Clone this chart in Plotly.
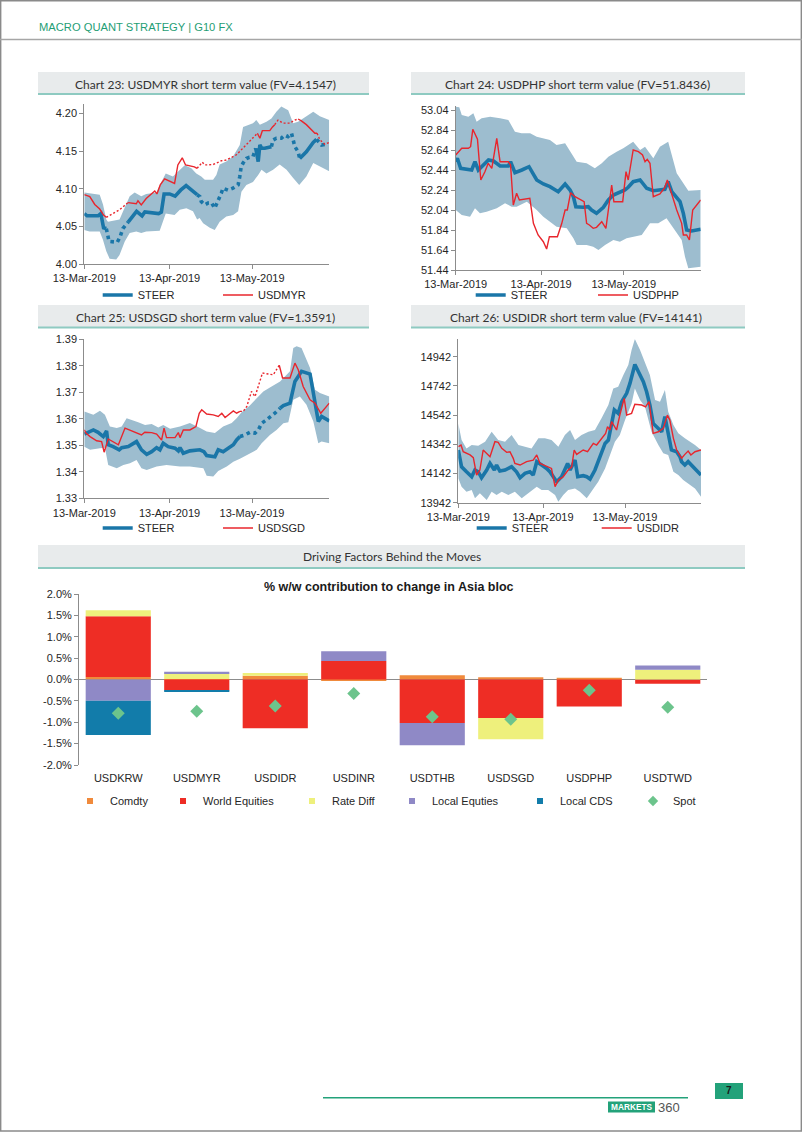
import pandas as pd
import plotly.graph_objects as go

W, H = 802, 1133
BASE = pd.Timestamp("2019-03-13")

# ---------------- Chart 23: USDMYR ----------------
myr_steer_day = [0,1,5,6,7,8,9,12,13,14,16,19,21,22,27,28,29,31,33,35,37,38,40,41,42,42.5,43.8,45,46.2,47.4,
                 48.6,49.8,50.4,52.2,54,55.9,56.5,57,57.7,58.9,60,61.3,62.3,63.2,63.8,64.4,65.6,68,68.6,69.8,
                 71.6,72.8,74,75.3,76.5,77.7,78.3,80.7,83.2,84.4,85,86.2,88]
myr_steer = [4.067,4.064,4.064,4.067,4.048,4.047,4.030,4.029,4.036,4.047,4.056,4.070,4.064,4.069,4.067,4.069,4.093,4.093,4.090,4.098,
             4.104,4.101,4.096,4.092,4.0895,4.083,4.0785,4.081,4.0815,4.074,4.083,4.094,4.1006,4.098,4.1006,4.105,4.116,4.129,4.134,4.140,
             4.1417,4.1425,4.1536,4.136,4.158,4.154,4.1536,4.1558,4.1646,4.167,4.167,4.171,4.169,4.1735,4.156,4.149,4.140,4.149,4.1615,4.1655,
             4.1624,4.158,4.159]
myr_steer_dotted = [(8, 16), (41, 62.3), (68, 78.3), (84.4, 89)]
myr_spot_day = [0,2,3.8,5.6,7,8,8.6,10.4,12.8,14.7,15.9,17.7,18.9,19.5,20.7,22.5,24.4,25.6,26.4,27.6,
                29.2,31,32.8,34,34.7,35.6,36.8,38.3,40,41,42,42.9,43.8,46.8,49.8,51.6,55.3,57.7,60,61.9,
                62.9,63.8,64.7,67.4,68.4,69.2,70.4,72.2,74.7,76.5,77.7,78.9,80.7,82.5,83.8,84.6,85.6,87.4,89]
myr_spot = [4.092,4.0895,4.079,4.073,4.065,4.062,4.063,4.067,4.072,4.0785,4.0815,4.081,4.080,4.084,4.0785,4.087,4.093,4.097,4.093,4.105,
            4.113,4.110,4.107,4.1315,4.135,4.141,4.1315,4.1306,4.129,4.127,4.1306,4.135,4.1315,4.132,4.137,4.138,4.145,4.154,4.1615,4.169,
            4.1735,4.167,4.177,4.177,4.182,4.185,4.191,4.187,4.187,4.191,4.1925,4.190,4.185,4.179,4.1735,4.1735,4.165,4.159,4.1615]
myr_spot_dotted = [(8, 15.9), (41, 62.9), (69.2, 77.7), (84.6, 89)]
myr_up_day = [0,2.9,5.6,6.8,8,8.6,12.8,14.1,16.5,18.3,20.7,22.5,26.2,28,29.6,32.2,34.7,36.5,38.9,40.7,
              42.5,43.8,46.8,48,49.2,51.6,54.1,56.5,57.7,61.3,62.5,63.8,66.2,68,69.8,71.6,74.1,75.9,77.7,80.7,83.2,85.6,89]
myr_up = [4.095,4.093,4.092,4.079,4.059,4.056,4.059,4.070,4.090,4.095,4.090,4.093,4.095,4.109,4.120,4.116,4.125,4.131,4.127,4.120,
          4.116,4.112,4.112,4.118,4.132,4.136,4.143,4.158,4.182,4.187,4.191,4.185,4.189,4.193,4.202,4.209,4.204,4.187,4.189,4.196,4.202,4.196,4.191]
myr_lo_day = [0,1.9,5.6,6.8,8,9.2,11.6,12.8,14.7,16.5,18.9,20.7,22.5,27.4,29.6,32.8,34.7,37.1,39.5,41,
              41.9,43.2,45.6,47.4,49.2,51.6,54.1,55.9,57.1,58.9,61.3,63.2,64.4,66.2,68.6,71,73.5,75.9,78.1,80.7,83.2,85.6,89]
myr_lo = [4.045,4.043,4.043,4.032,4.017,4.007,4.006,4.012,4.030,4.041,4.043,4.041,4.043,4.044,4.067,4.065,4.072,4.074,4.070,4.059,
          4.061,4.054,4.048,4.045,4.056,4.063,4.065,4.070,4.096,4.105,4.109,4.118,4.125,4.120,4.125,4.132,4.125,4.114,4.105,4.116,4.134,4.129,4.123]
myr_ticks = [4.00, 4.05, 4.10, 4.15, 4.20]

# ---------------- Chart 24: USDPHP ----------------
php_steer_day = [0,0.6,1.8,5.8,7,8.2,11.9,13.7,16.1,19.1,19.9,21.5,24,26.6,29.4,31.8,34.2,37.2,39.7,41.5,
                 42.7,43.6,46.3,48.1,49.3,51.1,53.6,55.4,57.2,59.6,61.4,62.6,64.4,66.9,69.3,71.7,74.1,75.9,77.1,78.4,
                 81.4,82.6,83.8,85.6,88.9]
php_steer = [52.523,52.557,52.457,52.44,52.523,52.44,52.54,52.53,52.48,52.48,52.523,52.413,52.44,52.473,52.34,52.30,52.273,52.223,52.30,52.24,
             52.173,52.073,52.067,52.073,52.04,52.007,52.067,52.14,52.19,52.223,52.24,52.267,52.323,52.34,52.257,52.233,52.24,52.247,52.323,52.223,
             52.123,52.007,51.84,51.83,51.847]
php_spot_day = [0,2.2,4.6,5.4,6.2,7.9,9.1,10.6,11.8,13.1,14.9,16.1,19.1,19.9,20.9,22.1,23.1,26.9,28.2,29.9,
                31.8,33,34,36.9,38.5,39.7,40.5,41.7,43.3,45.7,46.6,47.5,48.5,49.9,51.1,53,54.5,56.6,57.4,60.6,
                61.8,62.6,64.4,66.3,67.8,68.7,69.5,70.5,71.7,74.1,75.9,76.8,78.4,80.2,82,82.6,83.8,84.8,86,87.4,88.9]
php_spot = [52.59,52.657,52.657,52.673,52.847,52.747,52.34,52.423,52.507,52.457,52.757,52.523,52.523,52.49,52.09,52.207,52.14,52.157,51.907,51.79,
            51.723,51.65,51.773,51.773,51.907,52.04,52.04,52.213,52.173,52.14,52.123,51.907,51.89,51.857,51.867,51.923,51.857,52.29,52.123,52.123,
            52.423,52.34,52.64,52.623,52.59,52.523,52.547,52.507,52.173,52.2,52.267,52.34,52.19,52.04,51.907,51.79,51.79,51.74,52.04,52.09,52.14]
php_up_day = [0,1.3,2.2,4.6,6.4,7.6,9.4,12.5,16.1,19.1,21.5,23.9,27,29.4,34.2,36.6,39.7,41.5,43.9,47.5,
              50.5,53,55.4,58.4,60.8,64.4,66.9,68.7,71.7,74.1,77.1,80.2,82.6,84.4,88.9]
php_up = [53.073,53.067,52.99,52.973,53.007,52.923,52.957,52.973,52.957,52.94,52.823,52.807,52.807,52.773,52.74,52.69,52.707,52.623,52.523,52.507,
          52.457,52.507,52.573,52.623,52.657,52.723,52.64,52.673,52.557,52.673,52.723,52.407,52.307,52.233,52.24]
php_lo_day = [0,2.2,5.2,7,8.8,11.2,14.9,17.9,20.3,22.1,25.8,29.4,31.8,34.2,36.6,40.3,42.7,43.9,47.5,49.9,
              51.8,54.2,57.2,59.6,62,65.1,67.5,70.5,73.5,76.5,79.6,82,83.2,84.4,88.9]
php_lo = [52.04,51.99,51.973,52.057,52.007,52.023,52.057,52.107,52.073,52.073,52.123,52.04,51.973,51.923,51.873,51.857,51.757,51.69,51.69,51.673,
          51.64,51.69,51.74,51.723,51.757,51.773,51.79,51.907,51.907,51.957,51.84,51.74,51.573,51.457,51.473]
php_ticks = [51.44, 51.64, 51.84, 52.04, 52.24, 52.44, 52.64, 52.84, 53.04]

# ---------------- Chart 25: USDSGD ----------------
sgd_steer_day = [0,1.5,3.3,5,6.9,8.1,8.7,10.5,12.7,13.6,16,19,20.8,22.7,24.5,26.3,27.5,28.7,30.5,33,
                 34.2,34.8,36,38.4,42,43.5,44.5,47.5,48.7,50.5,52.4,54.2,55.4,56.6,58.4,60.2,62.1,63.3,64.5,65.7,
                 67.5,69.3,71.2,72.4,74.8,76.6,77.8,79,82.1,83.9,85.1,86.3,89.1]
sgd_steer = [1.3542,1.3549,1.3558,1.3549,1.3533,1.3554,1.3502,1.3495,1.3483,1.3491,1.3495,1.3514,1.3483,1.3466,1.3476,1.3491,1.3483,1.3508,1.3495,1.3489,
             1.3479,1.3491,1.347,1.3479,1.3483,1.3476,1.3461,1.3457,1.3483,1.3476,1.3489,1.3502,1.352,1.3533,1.3539,1.3549,1.3546,1.3558,1.3583,1.3592,
             1.3605,1.3621,1.364,1.365,1.3659,1.3741,1.376,1.3779,1.3769,1.3672,1.359,1.3609,1.3592]
sgd_steer_dotted = [(56.4, 71.5)]
sgd_spot_day = [0,0.6,2.1,4.5,6.3,7.2,8.7,10.5,12.4,14.8,17.2,19,20.8,22,24.5,26.3,28.1,29,29.9,33,
                34.2,34.8,36,38.4,40.6,41.8,42.7,44.5,46.9,48.7,50,51.2,54.2,55.4,56.6,57.8,59.1,60.8,62.1,63.3,
                64.8,66.9,68.7,70.9,72.1,74.8,76.6,77.8,79.6,82.1,83.9,86,89.1]
sgd_spot = [1.3558,1.3546,1.3533,1.3517,1.3514,1.3474,1.3524,1.3512,1.3502,1.3565,1.3554,1.3546,1.3539,1.3549,1.3548,1.3542,1.352,1.3565,1.3529,1.3529,
            1.3548,1.3529,1.3558,1.3558,1.3571,1.3621,1.3634,1.3618,1.3615,1.3609,1.3621,1.3605,1.363,1.3621,1.3628,1.3628,1.3647,1.3703,1.3684,1.3722,
            1.3773,1.3769,1.3766,1.3802,1.3754,1.3754,1.381,1.3785,1.3722,1.3672,1.3659,1.3621,1.3659]
sgd_spot_dotted = [(56.6, 70.9)]
sgd_up_day = [0,1.5,3.3,5.7,7.5,9.3,11.8,13.6,15.4,19.6,22.1,24.5,26.9,28.7,31.2,34.8,38.4,42.1,44.5,47.5,
              50.5,53.6,55.4,57.2,60.2,62.7,65.1,67.5,71.2,74.8,76,77.2,79,82.1,83.9,85.7,89.1]
sgd_up = [1.3628,1.3621,1.3615,1.363,1.3615,1.3571,1.3565,1.3571,1.3602,1.3587,1.3577,1.358,1.3567,1.3577,1.3562,1.3571,1.3584,1.3565,1.3552,1.3546,
          1.3571,1.3584,1.3602,1.3625,1.365,1.3678,1.3703,1.3718,1.3741,1.3779,1.3867,1.3874,1.3867,1.3792,1.371,1.3697,1.3684]
sgd_lo_day = [0,2.1,5.7,7.5,8.7,11.8,14.2,16.6,19,20.8,22.7,26.3,29.9,34.8,38.4,43.3,44.5,46.9,48.7,51.8,
              54.2,56.6,59,62.7,64.5,67.5,69.9,72.4,74.2,76,78.4,80.8,83.3,85.1,86.3,89.1]
sgd_lo = [1.3495,1.3483,1.3489,1.3491,1.3426,1.3413,1.3426,1.3432,1.3445,1.3413,1.3407,1.342,1.3426,1.342,1.342,1.3413,1.3385,1.3382,1.3403,1.342,
          1.3438,1.3449,1.3461,1.3483,1.3508,1.3539,1.3558,1.3583,1.3587,1.3672,1.3684,1.3653,1.359,1.3508,1.3514,1.3508]
sgd_ticks = [1.33, 1.34, 1.35, 1.36, 1.37, 1.38, 1.39]

# ---------------- Chart 26: USDIDR ----------------
idr_steer_day = [0,1.2,3,4.9,6.1,7.3,8.5,10.4,11.6,13.2,14,15.2,17.1,19.5,21.3,22.6,24.4,26.2,27.4,28.7,
                 30.5,32.3,33.5,34.8,36,37.8,40,40.9,42.7,43.7,45.7,47,48.2,50,51.8,53.7,54.9,56.1,57.1,58.5,
                 59.8,61.6,62.8,64.6,65.9,67.7,68.9,70.1,71.3,73.2,74.4,75.6,76.8,78,79.9,81.1,81.7,82.9,84.1,86,88.8]
idr_steer = [14303,14188,14154,14120,14166,14154,14113,14166,14211,14166,14200,14159,14166,14188,14154,14113,14143,14154,14131,14223,
             14200,14177,14154,14120,14086,14120,14211,14166,14234,14120,14127,14120,14104,14166,14257,14348,14371,14474,14577,14554,
             14634,14691,14759,14889,14839,14771,14702,14611,14485,14451,14428,14531,14428,14303,14291,14257,14223,14200,14223,14188,14131]
idr_spot_day = [0,1,1.8,4.3,5.5,6.7,7.9,9.1,11.6,13.4,14.6,15.9,17.7,18.9,20.1,20.7,22.6,25,27.4,28.7,
                29.9,31.7,34.1,35.4,36.6,38.4,40.2,41.5,42.4,43.3,45.7,47.3,49.4,50.6,52.4,53.9,54.6,55.5,56.1,57.9,
                59.1,60.7,61.6,63.4,64.6,67.1,68.5,69.8,71.3,73.2,75,76.5,77.4,78.7,79.9,81.7,82.9,84.1,85.1,86.6,88.8]
idr_spot = [14326,14337,14291,14269,14250,14131,14166,14303,14257,14360,14355,14314,14287,14291,14246,14211,14200,14223,14234,14269,
            14211,14195,14177,14052,14097,14120,14166,14188,14303,14273,14303,14291,14348,14337,14383,14417,14462,14440,14497,14440,
            14542,14657,14542,14554,14616,14611,14599,14634,14417,14428,14451,14542,14508,14383,14303,14246,14273,14296,14269,14291,14303]
idr_up_day = [0,1.2,3,4.9,7.3,9.8,12.2,14.6,17.1,19.5,22,24.4,26.8,29.3,31.7,34.1,36.6,39,40.9,42.7,
              45.1,47.6,50,52.4,54.9,56.7,58.5,60.4,62.2,63.4,64.6,66.5,68.3,70.1,72,73.8,75.6,76.8,78.7,80.5,82.9,84.8,86.6,88.8]
idr_up = [14485,14371,14314,14337,14332,14360,14428,14371,14360,14406,14337,14326,14314,14383,14383,14371,14326,14406,14440,14371,
          14406,14428,14440,14520,14611,14725,14737,14816,14885,14988,15063,14988,14896,14816,14645,14634,14714,14565,14474,14417,14383,14360,14337,14303]
idr_lo_day = [0,1.2,3,4.9,6.1,7.9,10.4,12.2,14,15.9,18.3,20.7,23.2,26.2,28.7,30.5,32.9,35.4,36.6,38.4,
              40.2,42.7,44.5,47,48.8,51.2,53.7,55.5,57.3,59.1,61,63.4,64.6,66.5,68.3,70.7,73.2,75,76.8,78.7,80.5,82.3,84.1,86.6,88.8]
idr_lo = [14109,14052,14017,14029,13972,14006,13960,14017,13994,14017,13994,14017,13972,14017,14052,14029,14029,13994,13949,13994,
          14029,14040,14017,13972,14017,14086,14177,14269,14360,14406,14508,14622,14725,14645,14599,14428,14337,14280,14269,14154,14131,14097,14074,14040,13983]
idr_ticks = [13942, 14142, 14342, 14542, 14742, 14942]

date_ticks = ["2019-03-13", "2019-04-13", "2019-05-13"]

# ---------------- Bar chart: drivers ----------------
categories = ["USDKRW", "USDMYR", "USDIDR", "USDINR", "USDTHB", "USDSGD", "USDPHP", "USDTWD"]
comdty = [0.06, 0.01, 0.09, -0.02, 0.10, 0.05, 0.04, 0.0]
world_equities = [1.42, -0.26, -1.14, 0.43, -1.02, -0.90, -0.63, -0.10]
rate_diff = [0.14, 0.13, 0.06, 0.0, 0.0, -0.50, 0.0, 0.23]
local_equities = [-0.50, 0.04, 0.0, 0.23, -0.52, 0.0, 0.0, 0.10]
local_cds = [-0.80, -0.02, 0.0, 0.0, 0.0, 0.0, 0.0, 0.0]
spot_move = [-0.79, -0.74, -0.62, -0.33, -0.87, -0.93, -0.25, -0.65]
bar_ticks = [-2.0, -1.5, -1.0, -0.5, 0.0, 0.5, 1.0, 1.5, 2.0]
bar_tick_text = ["-2.0%", "-1.5%", "-1.0%", "-0.5%", "0.0%", "0.5%", "1.0%", "1.5%", "2.0%"]

# ---------------- styling ----------------
ARIAL = "Liberation Sans, Arial, sans-serif"
TITLEF = "Lato, Open Sans, sans-serif"
BLUE = "#1a76a8"
RED = "#e8262d"
BAND = "#9dbdcf"
AXC = "#8c8c8c"
TXT = "#262626"
GREEN = "#1f9e75"
TEAL = "#8ecac1"
BOXBG = "#e8ebec"


def pxx(x):
    return x / W


def pyy(y):
    return 1 - y / H


def to_dates(days):
    return [None if d is None else BASE + pd.Timedelta(days=d) for d in days]


def split(days, vals, spans):
    out = {"solid": ([], []), "dot": ([], [])}
    last = {"solid": None, "dot": None}
    for i in range(len(days) - 1):
        mid = (days[i] + days[i + 1]) / 2
        k = "dot" if any(a <= mid <= b for a, b in spans) else "solid"
        xs, ys = out[k]
        if last[k] != i:
            if xs:
                xs.append(None)
                ys.append(None)
            xs.append(days[i])
            ys.append(vals[i])
        xs.append(days[i + 1])
        ys.append(vals[i + 1])
        last[k] = i + 1
    return out


def legend_name(n):
    return "legend" if n == 1 else f"legend{n}"


fig = go.Figure()
layout_extra = {}

charts = [
    dict(name="USDMYR", steer=(myr_steer_day, myr_steer, myr_steer_dotted), spot=(myr_spot_day, myr_spot, myr_spot_dotted),
         up=(myr_up_day, myr_up), lo=(myr_lo_day, myr_lo), ticks=myr_ticks, fmt=".2f",
         xdom=(84.3, 329.2), ydom=(104.3, 264), yrange=(4.00, 4.212), leg_y=295, leg_x=(102.7, 223)),
    dict(name="USDPHP", steer=(php_steer_day, php_steer, []), spot=(php_spot_day, php_spot, []),
         up=(php_up_day, php_up), lo=(php_lo_day, php_lo), ticks=php_ticks, fmt=".2f",
         xdom=(455.7, 700.7), ydom=(106, 270), yrange=(51.44, 53.08), leg_y=295, leg_x=(475.7, 598)),
    dict(name="USDSGD", steer=(sgd_steer_day, sgd_steer, sgd_steer_dotted), spot=(sgd_spot_day, sgd_spot, sgd_spot_dotted),
         up=(sgd_up_day, sgd_up), lo=(sgd_lo_day, sgd_lo), ticks=sgd_ticks, fmt=".2f",
         xdom=(84.3, 329.3), ydom=(339.3, 498.3), yrange=(1.33, 1.39), leg_y=528, leg_x=(102.7, 223)),
    dict(name="USDIDR", steer=(idr_steer_day, idr_steer, []), spot=(idr_spot_day, idr_spot, []),
         up=(idr_up_day, idr_up), lo=(idr_lo_day, idr_lo), ticks=idr_ticks, fmt="d",
         xdom=(458.3, 701), ydom=(339.2, 502.7), yrange=(13942, 15062), leg_y=528, leg_x=(476.7, 601.7)),
]

LEG_OFF = 5  # pixels from legend x to start of line sample
leg_n = 0
for i, c in enumerate(charts):
    ax = "" if i == 0 else str(i + 1)
    xa, ya = "x" + ax, "y" + ax
    bx = list(c["up"][0]) + list(c["lo"][0])[::-1]
    by = list(c["up"][1]) + list(c["lo"][1])[::-1]
    fig.add_trace(go.Scatter(x=to_dates(bx), y=by, fill="toself", fillcolor=BAND, line=dict(width=0),
                             mode="lines", hoverinfo="skip", showlegend=False, xaxis=xa, yaxis=ya))
    for key, color, width, dotdash, name in [("steer", BLUE, 3.6, "dot", "STEER"),
                                              ("spot", RED, 1.4, "2px,2px", c["name"])]:
        d, v, spans = c[key]
        parts = split(d, v, spans)
        leg_n += 1
        lname = legend_name(leg_n)
        if parts["dot"][0]:
            fig.add_trace(go.Scatter(x=to_dates(parts["dot"][0]), y=parts["dot"][1], mode="lines",
                                     line=dict(color=color, width=width, dash=dotdash), showlegend=False,
                                     connectgaps=False, xaxis=xa, yaxis=ya))
        fig.add_trace(go.Scatter(x=to_dates(parts["solid"][0]), y=parts["solid"][1], mode="lines", name=name,
                                 line=dict(color=color, width=width), connectgaps=False, legend=lname,
                                 xaxis=xa, yaxis=ya))
        lx = c["leg_x"][0] if key == "steer" else c["leg_x"][1]
        layout_extra[lname] = dict(x=pxx(lx - LEG_OFF), y=pyy(c["leg_y"]), xanchor="left", yanchor="middle",
                                   orientation="h", bgcolor="rgba(0,0,0,0)", borderwidth=0,
                                   font=dict(family=ARIAL, size=11, color=TXT))
    all_days = c["steer"][0] + c["spot"][0] + c["up"][0] + c["lo"][0]
    layout_extra["xaxis" + ax] = dict(
        domain=[pxx(c["xdom"][0]), pxx(c["xdom"][1])], type="date",
        range=[BASE, BASE + pd.Timedelta(days=max(all_days))],
        tickvals=date_ticks, tickformat="%d-%b-%Y", showline=True, linecolor=AXC, linewidth=1,
        ticks="outside", ticklen=4, tickcolor=AXC, showgrid=False, zeroline=False, anchor=ya,
        automargin=False, tickfont=dict(family=ARIAL, size=11, color=TXT), fixedrange=True)
    layout_extra["yaxis" + ax] = dict(
        domain=[pyy(c["ydom"][1]), pyy(c["ydom"][0])], range=list(c["yrange"]), tickvals=c["ticks"],
        tickformat=c["fmt"], showline=True, linecolor=AXC, linewidth=1, ticks="outside", ticklen=4,
        tickcolor=AXC, showgrid=False, zeroline=False, anchor=xa, automargin=False,
        tickfont=dict(family=ARIAL, size=11, color=TXT), fixedrange=True)

# bar chart
bar_series = [("Comdty", comdty, "#f08a3c"), ("World Equities", world_equities, "#ee2d25"),
              ("Rate Diff", rate_diff, "#eef07c"), ("Local Equties", local_equities, "#8f89c6"),
              ("Local CDS", local_cds, "#127caa")]
for name, vals, col in bar_series:
    fig.add_trace(go.Bar(x=categories, y=vals, name=name, marker=dict(color=col, line=dict(width=0)),
                         showlegend=False, xaxis="x5", yaxis="y5"))
fig.add_trace(go.Scatter(x=categories, y=spot_move, mode="markers", name="Spot", showlegend=False,
                         marker=dict(symbol="diamond", size=10, color="#6cc48c"), xaxis="x5", yaxis="y5"))

bar_leg_centers = [96, 189, 318, 418, 546, 659]
legend_items = [(n, c, "square") for n, _, c in bar_series] + [("Spot", "#6cc48c", "diamond")]
for (name, col, sym), cx in zip(legend_items, bar_leg_centers):
    leg_n += 1
    lname = legend_name(leg_n)
    fig.add_trace(go.Scatter(x=[None], y=[None], mode="markers", name=name, legend=lname,
                             marker=dict(symbol=sym, size=6 if sym == "square" else 8, color=col),
                             xaxis="x5", yaxis="y5"))
    layout_extra[lname] = dict(x=pxx(cx - 6 - 20), y=pyy(801), xanchor="left", yanchor="middle",
                               orientation="h", bgcolor="rgba(0,0,0,0)", borderwidth=0,
                               font=dict(family=ARIAL, size=11, color=TXT))

layout_extra["xaxis5"] = dict(domain=[pxx(79), pxx(707)], anchor="y5", showline=False, ticks="",
                              showgrid=False, automargin=False, ticklabelstandoff=5,
                              tickfont=dict(family=ARIAL, size=11, color=TXT), fixedrange=True)
layout_extra["yaxis5"] = dict(domain=[pyy(765), pyy(594)], anchor="x5", range=[-2, 2], tickvals=bar_ticks,
                              ticktext=bar_tick_text, showline=True, linecolor=AXC, ticks="outside",
                              ticklen=4, tickcolor=AXC, showgrid=False, zeroline=True, zerolinecolor=AXC,
                              zerolinewidth=1, automargin=False,
                              tickfont=dict(family=ARIAL, size=11, color=TXT), fixedrange=True)

# ---------------- page decoration ----------------
shapes = []
annotations = []


def rect(x0, y0, x1, y1, fill, line=None, lw=0):
    shapes.append(dict(type="rect", xref="paper", yref="paper", x0=pxx(x0), x1=pxx(x1), y0=pyy(y1), y1=pyy(y0),
                       fillcolor=fill, line=dict(color=line or fill, width=lw), layer="below"))


def hline(x0, x1, y, color, w):
    shapes.append(dict(type="line", xref="paper", yref="paper", x0=pxx(x0), x1=pxx(x1), y0=pyy(y), y1=pyy(y),
                       line=dict(color=color, width=w)))


def text(s, x, y, size, color, family, xanchor="center", bold=False):
    annotations.append(dict(text=f"<b>{s}</b>" if bold else s, x=pxx(x), y=pyy(y), xref="paper", yref="paper",
                            xanchor=xanchor, yanchor="middle", showarrow=False,
                            font=dict(size=size, color=color, family=family)))


shapes.append(dict(type="rect", xref="paper", yref="paper", x0=pxx(0.7), x1=pxx(801.3), y0=pyy(1131), y1=pyy(0.7),
                   line=dict(color="#8a8a8a", width=1.4), fillcolor="rgba(0,0,0,0)"))
hline(0, 802, 39.5, "#a6a6a6", 1.5)
text("MACRO QUANT STRATEGY | G10 FX", 37, 27.5, 11.2, GREEN, ARIAL, xanchor="left")

title_boxes = [
    (38, 369, 72, 94, "Chart 23: USDMYR short term value (FV=4.1547)", 205.5, 84.5),
    (411, 745, 72, 94, "Chart 24: USDPHP short term value (FV=51.8436)", 577, 84.5),
    (38, 369, 305, 327.5, "Chart 25: USDSGD short term value (FV=1.3591)", 205, 317.5),
    (411, 745, 305, 327.5, "Chart 26: USDIDR short term value (FV=14141)", 576, 317.5),
    (38, 745, 545, 568, "Driving Factors Behind the Moves", 392, 556.5),
]
for x0, x1, y0, y1, s, tx, ty in title_boxes:
    rect(x0, y0, x1, y1, BOXBG)
    hline(x0, x1, y1, TEAL, 1.8)
    text(s, tx, ty, 12, "#333333", TITLEF)

text("% w/w contribution to change in Asia bloc", 389, 586.5, 12.5, "#1a1a1a", ARIAL, bold=True)

# footer
hline(323, 688, 1097.7, "#23a27a", 1.5)
rect(715, 1083, 743, 1099, "#23a27a")
text("7", 729, 1090.5, 10, "#1a1a1a", ARIAL, bold=True)
rect(608, 1101.5, 655, 1112.5, "#23a27a")
text("MARKETS", 631.5, 1107, 8.3, "#ffffff", ARIAL, bold=True)
text("360", 656, 1107, 13, "#555555", ARIAL, xanchor="left")

fig.update_layout(
    width=W, height=H, margin=dict(l=0, r=0, t=0, b=0, autoexpand=False), paper_bgcolor="white",
    plot_bgcolor="rgba(0,0,0,0)", barmode="relative", bargap=0.17, shapes=shapes, annotations=annotations,
    showlegend=True, font=dict(family=ARIAL, size=11, color=TXT), **layout_extra)

fig.write_html("out.html", config={"displayModeBar": False},
               post_script="document.body.style.margin='0';document.body.style.overflow='hidden';")
